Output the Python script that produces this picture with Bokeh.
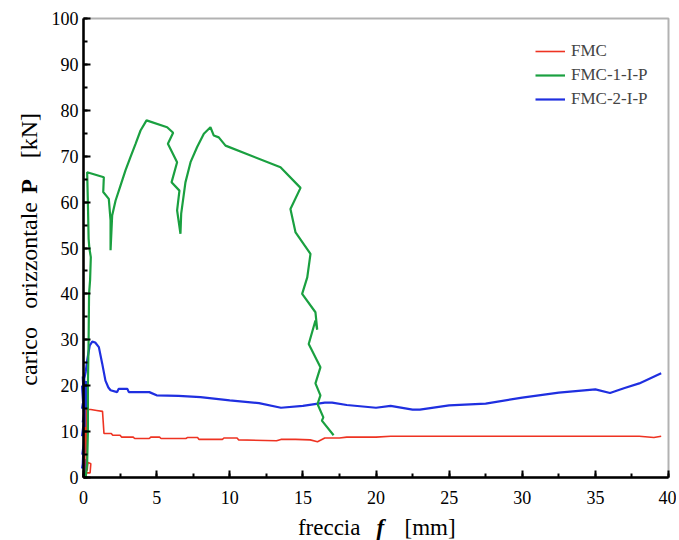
import math
from bokeh.plotting import figure
from bokeh.models import (Label, SingleIntervalTicker, Legend, LegendItem, BoxAnnotation, Range1d)
from bokeh.embed import file_html
from bokeh.resources import INLINE

# ---- data ----
fmc_x = [0.0, 0.05, 0.05, 0.1, 0.05, 0.15, 0.2, 0.45, 0.5, 0.3, 0.25, 0.2, 0.2, 0.5, 0.9, 1.3, 1.35, 1.4,
         1.9, 2.0, 2.5, 2.6, 3.4, 3.5, 4.5, 4.6, 5.2, 5.3, 7.0, 7.1, 7.8, 7.9, 9.5, 9.6, 10.5, 10.6,
         13.2, 13.5, 14.5, 15.5, 16.0, 16.5, 17.5, 18.0, 20.0, 21.0, 25.0, 30.0, 35.0, 38.0, 39.0, 39.5]
fmc_y = [0.0, 3.0, 8.0, 11.0, 9.0, 10.0, 1.0, 1.0, 3.0, 3.3, 1.5, 5.0, 14.8, 14.8, 14.6, 14.4, 12.0, 9.6,
         9.6, 9.2, 9.2, 8.8, 8.8, 8.5, 8.5, 8.8, 8.8, 8.5, 8.5, 8.7, 8.7, 8.3, 8.3, 8.6, 8.6, 8.2,
         8.0, 8.3, 8.3, 8.2, 7.8, 8.6, 8.6, 8.8, 8.8, 9.0, 9.0, 9.0, 9.0, 9.0, 8.7, 9.0]

fmc1_x = [0.15, 0.25, 0.3, 0.3, 0.35, 0.38, 0.45, 0.5, 0.4, 0.35, 0.3, 0.25, 1.39, 1.35, 1.73, 1.85, 1.85,
          1.96, 2.19, 2.53, 2.87, 3.21, 3.56, 3.9, 4.31, 5.72, 6.13, 5.77, 6.4, 6.02, 6.56, 6.4, 6.63,
          6.68, 6.97, 7.32, 7.77, 8.23, 8.68, 8.91, 9.25, 9.71, 13.47, 14.84, 14.15, 14.5, 15.52, 15.3,
          14.95, 15.86, 15.98, 15.86, 15.4, 16.2, 15.86, 16.2, 16.0, 16.4, 16.3, 17.1]
fmc1_y = [0.0, 3.0, 10.0, 20.0, 30.0, 40.0, 43.0, 48.0, 50.0, 52.0, 60.0, 66.5, 65.4, 62.2, 60.7, 56.0, 49.5,
          57.1, 60.3, 63.6, 66.9, 69.8, 72.7, 75.6, 77.8, 76.3, 75.1, 72.7, 68.7, 64.3, 62.5, 58.2, 53.1,
          57.5, 64.3, 68.7, 72.0, 74.9, 76.3, 74.5, 74.1, 72.3, 67.6, 63.1, 58.5, 53.4, 48.7, 43.6,
          40.0, 36.0, 32.2, 34.2, 29.1, 24.0, 20.5, 17.9, 16.0, 13.1, 12.4, 9.2]

fmc2_x = [0.05, 0.2, -0.1, 0.22, -0.08, 0.2, -0.1, 0.18, -0.05, 0.22, -0.1, 0.2, -0.05, 0.22, -0.1, 0.18,
          -0.05, 0.2, 0.05, 0.15, 0.25, 0.43, 0.6, 0.8, 1.05,
          1.28, 1.5, 1.7, 1.85, 2.3, 2.4, 3.0, 3.1, 4.5, 5.0, 6.5, 8.0, 10.0, 12.0, 13.5, 15.0, 16.5,
          17.0, 18.0, 20.0, 21.0, 22.5, 23.0, 25.0, 27.5, 30.0, 32.5, 35.0, 36.0, 37.0, 38.0, 39.5]
fmc2_y = [0.0, 4.0, 2.0, 8.0, 5.0, 12.0, 9.0, 16.0, 12.0, 19.0, 15.0, 21.0, 3.0, 17.0, 20.0, 6.0,
          22.0, 14.0, 21.5, 23.0, 25.5, 28.8, 29.6, 29.4, 28.4,
          24.8, 21.1, 19.6, 19.0, 18.6, 19.3, 19.3, 18.6, 18.6, 17.9, 17.8, 17.5, 16.8, 16.2, 15.2, 15.6, 16.3,
          16.3, 15.8, 15.2, 15.6, 14.8, 14.8, 15.7, 16.1, 17.4, 18.5, 19.2, 18.4, 19.5, 20.5, 22.7]

series_names = ["FMC", "FMC-1-I-P", "FMC-2-I-P"]
x_title_parts = ["freccia", "f", "[mm]"]
y_title_parts = ["carico", "orizzontale", "P", "[kN]"]
x_limits = (0, 40)
y_limits = (0, 100)

SERIF = "Liberation Serif"

# ---- layout: the frame fills the canvas; the visible axes sit at x=0 / y=0 ----
W, H = 676, 540
FL, FR, FT, FB = 83, 668, 18, 477          # wanted pixel box of the axes
sx = (FR - FL) / (x_limits[1] - x_limits[0])
sy = (FB - FT) / (y_limits[1] - y_limits[0])
xr = Range1d(x_limits[0] - FL / sx, x_limits[1] + (W - FR) / sx)
yr = Range1d(y_limits[0] - (H - FB) / sy, y_limits[1] + FT / sy)

p = figure(width=W, height=H, x_range=xr, y_range=yr,
           output_backend="svg", toolbar_location=None,
           min_border_left=0, min_border_right=0, min_border_top=0, min_border_bottom=0)
p.grid.visible = False
p.outline_line_color = None
p.background_fill_color = "white"
p.border_fill_color = "white"

p.xaxis.ticker = SingleIntervalTicker(interval=5, num_minor_ticks=2)
p.yaxis.ticker = SingleIntervalTicker(interval=10, num_minor_ticks=2)
p.xaxis.fixed_location = y_limits[0]
p.yaxis.fixed_location = x_limits[0]
p.xaxis.bounds = x_limits
p.yaxis.bounds = y_limits
for ax in (p.xaxis[0], p.yaxis[0]):
    ax.axis_line_width = 2.5
    ax.axis_line_color = "black"
    ax.major_tick_in = 7
    ax.major_tick_out = 0
    ax.minor_tick_in = 4
    ax.minor_tick_out = 0
    ax.major_tick_line_width = 2
    ax.minor_tick_line_width = 2
    ax.major_label_text_font = SERIF
    ax.major_label_text_font_size = "18px"
    ax.major_label_text_color = "black"
    ax.axis_label = None
p.xaxis[0].major_label_standoff = 13
p.yaxis[0].major_label_standoff = 5

# box around the plotting area
p.add_layout(BoxAnnotation(left=x_limits[0], right=x_limits[1], bottom=y_limits[0], top=y_limits[1],
                           fill_alpha=0, line_color="black", line_width=2))

r3 = p.line(fmc2_x, fmc2_y, line_color="#1f2fe0", line_width=2.2)
r1 = p.line(fmc_x, fmc_y, line_color="#ee3322", line_width=1.6)
r2 = p.line(fmc1_x, fmc1_y, line_color="#1aa040", line_width=2.2)

legend = Legend(items=[LegendItem(label=series_names[0], renderers=[r1]),
                       LegendItem(label=series_names[1], renderers=[r2]),
                       LegendItem(label=series_names[2], renderers=[r3])],
                location=(535, 431), border_line_color=None, background_fill_alpha=0,
                padding=2, margin=0, spacing=4, glyph_width=30, glyph_height=16,
                label_standoff=6, label_text_font=SERIF, label_text_font_size="17px",
                label_height=16)
p.add_layout(legend)

# axis titles with mixed styles
for txt, xv, style in zip(x_title_parts, [16.8, 20.3, 23.7], ["normal", "bold italic", "normal"]):
    p.add_layout(Label(x=xv, y=y_limits[0], y_offset=-50, text=txt, text_align="center",
                       text_baseline="middle", text_font=SERIF, text_font_size="23px",
                       text_font_style=style, text_color="black"))
for txt, yv, style in zip(y_title_parts, [26.4, 48.4, 63.4, 74.5], ["normal", "normal", "bold", "normal"]):
    p.add_layout(Label(x=x_limits[0], y=yv, x_offset=-55, text=txt, angle=math.pi / 2,
                       text_align="center", text_baseline="middle", text_font=SERIF,
                       text_font_size="24px", text_font_style=style, text_color="black"))

open("out.html", "w").write(file_html(p, INLINE))
